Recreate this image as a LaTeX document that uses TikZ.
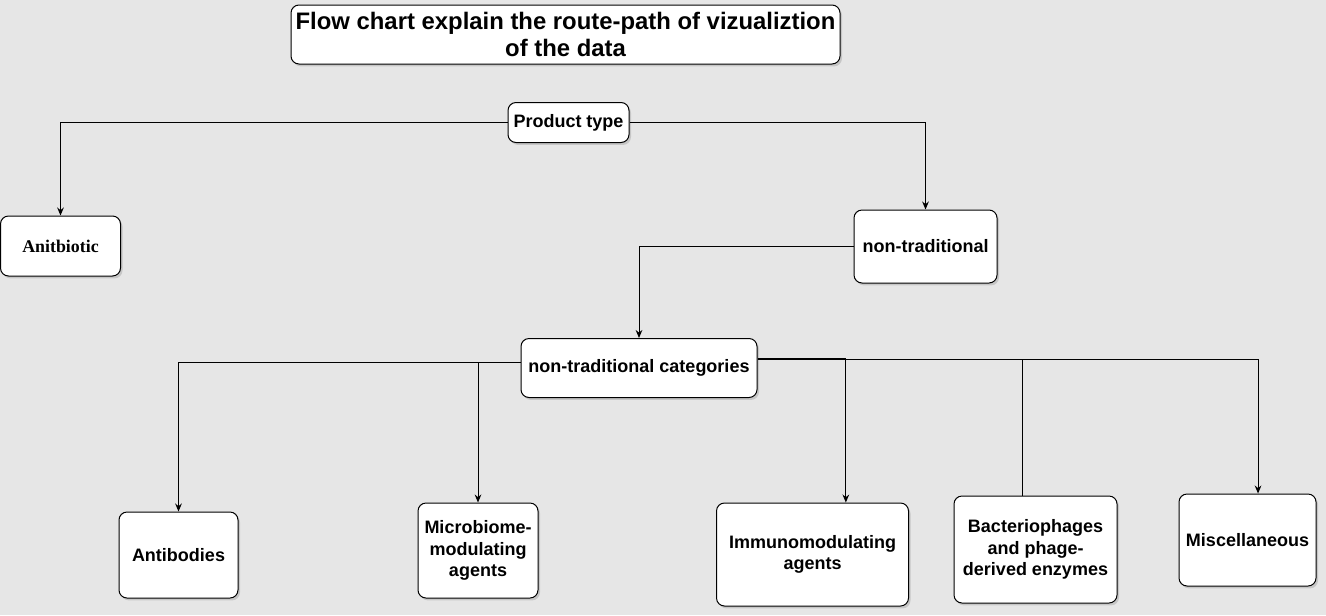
\documentclass[tikz,border=0pt]{standalone}
\usepackage{fontspec}
\setmainfont{Liberation Sans}
\newfontfamily\timesbold{Liberation Serif}
\usepackage{tikz}
\usetikzlibrary{arrows.meta}
\usetikzlibrary{shadows}
\definecolor{bggray}{HTML}{E6E6E6}

\begin{document}
\begin{tikzpicture}[x=0.75pt,y=-0.75pt,
    box/.style={draw=black, fill=white, rounded corners=6pt, line width=0.75pt,
        inner sep=1pt, align=center, font=\fontsize{13.5}{16.2}\selectfont\bfseries,
        drop shadow={shadow xshift=1.5pt, shadow yshift=-1.8pt, fill=black!45, opacity=0.35}},
    link/.style={draw=black, line width=0.75pt},
    arr/.style={link, -{Stealth[length=6pt,width=5pt]}}]
        \fill[bggray] (0,0) rectangle (1326,615);
        \useasboundingbox (0,0) rectangle (1326,615);

        \node[box, minimum width=411.75pt, minimum height=44.25pt, inner sep=0pt, font=\fontsize{17.9}{20.5}\selectfont\bfseries] (title) at (565.5,34.5)
            {Flow chart explain the route-path of vizualiztion\\of the data};
        \node[box, minimum width=90.75pt, minimum height=30pt] (prod) at (568.5,122.5) {Product type};
        \node[box, minimum width=90pt, minimum height=45pt, font=\fontsize{13.4}{15}\timesbold\bfseries] (anti) at (60.5,246) {Anitbiotic};
        \node[box, minimum width=107.25pt, minimum height=54.75pt] (nontrad) at (925.5,246.5) {non-traditional};
        \node[box, minimum width=177pt, minimum height=44.25pt] (cats) at (639,368) {non-traditional categories};

        \node[box, minimum width=89.25pt, minimum height=64.5pt] (antib) at (178.5,555) {Antibodies};
        \node[box, minimum width=90pt, minimum height=71.25pt] (micro) at (478,550.5) {Microbiome-\\modulating\\agents};
        \node[box, minimum width=144pt, minimum height=77.25pt] (immuno) at (812.5,554.5) {Immunomodulating\\agents};
        \node[box, minimum width=122.25pt, minimum height=80.25pt] (bact) at (1035.5,549.5) {Bacteriophages\\and phage-\\derived enzymes};
        \node[box, minimum width=102.75pt, minimum height=69pt] (misc) at (1247.5,540) {Miscellaneous};

        % upper tree
        \draw[arr] (prod.west) -| (anti.north);
        \draw[arr] (prod.east) -| (nontrad.north);
        \draw[arr] (nontrad.west) -| (cats.north);

        % categories
        \coordinate (mbsplit) at ([yshift=4.5pt]cats.west -| micro.north);
        \draw[arr] ([yshift=4.5pt]cats.west) -| (antib.north);
        \draw[arr] (mbsplit) -- (micro.north);
        \draw[arr] ([yshift=7.1pt]cats.east) -| ([xshift=25pt]immuno.north);
        \draw[arr] ([yshift=6.4pt]cats.east) -| ([xshift=7.9pt]misc.north);
        \coordinate (bptop) at ([xshift=-9.4pt]bact.north);
        \coordinate (bpsplit) at ([yshift=6.4pt]cats.east -| bptop);
        \draw[link] (bpsplit) -- (bptop);
    \end{tikzpicture}
\end{document}
